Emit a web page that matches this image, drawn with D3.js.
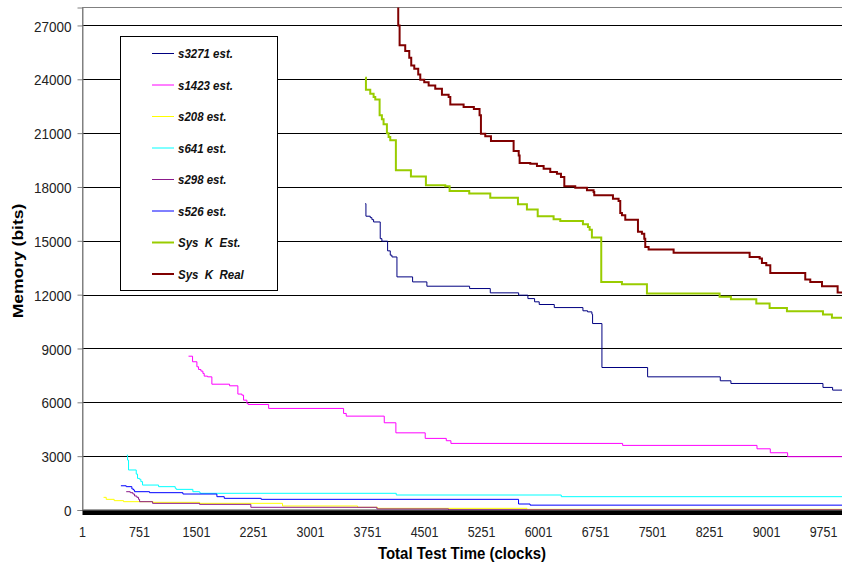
<!DOCTYPE html>
<html>
<head>
<meta charset="utf-8">
<script src="https://cdn.jsdelivr.net/npm/d3@7"></script>
<style>
  body { margin: 0; background: #fff; }
  svg { display: block; }
  text { font-family: "Liberation Sans", Arial, sans-serif; }
</style>
</head>
<body>
<svg id="chart"></svg>
<script>
// Step series, each point is [test time (clocks), memory (bits)]
const s3271 = [[3721, 17070], [3730, 16370], [3787, 16290], [3809, 16180], [3831, 16050], [3918, 15120],
  [3940, 14980], [4015, 14440], [4050, 14200], [4072, 14100], [4138, 12990], [4344, 12710], [4532, 12470],
  [5094, 12340], [5366, 12100], [5739, 11970], [5861, 11780], [5949, 11600], [6010, 11450], [6208, 11280],
  [6585, 11100], [6646, 11040], [6703, 10910], [6712, 10390], [6835, 7940], [7436, 7420], [8392, 7200],
  [8532, 7050], [9743, 6830], [9870, 6680], [10000, 6680]];

const s1423 = [[1396, 8570], [1449, 8260], [1506, 7980], [1528, 7830], [1559, 7740], [1585, 7610],
  [1602, 7460], [1646, 7420], [1703, 7010], [1936, 6920], [2045, 6460], [2098, 6400], [2120, 6120],
  [2164, 5940], [2180, 5880], [2450, 5660], [3436, 5380], [3471, 5230], [3971, 4860], [4124, 4300],
  [4510, 3990], [4787, 3860], [4848, 3710], [7107, 3600], [8875, 3410], [9050, 3190], [9278, 2970],
  [10000, 2970]];

const s208 = [[278, 705], [313, 594], [418, 520], [541, 464], [927, 427], [1541, 371], [2633, 223],
  [3620, 150], [3883, 93], [5848, 40], [10000, 40]];

const s641 = [[585, 3060], [594, 2780], [607, 2230], [708, 2000], [725, 1760], [752, 1710], [769, 1580],
  [791, 1390], [1002, 1300], [1221, 1210], [1234, 1150], [1453, 1020], [1541, 980], [1550, 930],
  [4129, 835], [6300, 742], [10000, 742]];

const s298 = [[576, 1020], [629, 965], [664, 890], [686, 780], [716, 705], [738, 594], [752, 464],
  [923, 371], [1541, 315], [2216, 150], [3874, 60], [4817, 10], [10000, 10]];

const s526 = [[506, 1350], [576, 1300], [651, 1170], [673, 1110], [686, 1020], [883, 965], [1322, 890],
  [1769, 742], [1866, 650], [2352, 594], [5738, 334], [5890, 270], [10000, 270]];

const sysKEst = [[3721, 24090], [3730, 23420], [3787, 23200], [3831, 23010], [3853, 22880], [3910, 21990],
  [3940, 21770], [3962, 21490], [4006, 21000], [4028, 20780], [4050, 20600], [4124, 18930], [4322, 18590],
  [4519, 18090], [4774, 18040], [4831, 17780], [5089, 17630], [5366, 17400], [5730, 17030], [5848, 16740],
  [5990, 16370], [6199, 16200], [6287, 16110], [6585, 15920], [6651, 15770], [6673, 15620], [6703, 15180],
  [6826, 12710], [7098, 12580], [7427, 12060], [8383, 11880], [8532, 11750], [8866, 11500], [9041, 11260],
  [9269, 11080], [9743, 10890], [9861, 10710], [10000, 10710]];

const sysKReal = [[4150, 29000], [4155, 27000], [4173, 25890], [4247, 25570], [4300, 25200], [4326, 24770],
  [4366, 24590], [4418, 24270], [4445, 23970], [4497, 23840], [4555, 23660], [4642, 23470], [4730, 23140],
  [4818, 23010], [4840, 22600], [5015, 22450], [5150, 22340], [5225, 21990], [5243, 20970], [5300, 20820],
  [5375, 20560], [5673, 20000], [5740, 19760], [5752, 19330], [5892, 19300], [5980, 19170], [6068, 19020],
  [6155, 18830], [6243, 18740], [6296, 18560], [6340, 18040], [6484, 17960], [6638, 17810], [6725, 17720],
  [6734, 17540], [6980, 17350], [7054, 17220], [7076, 16550], [7098, 16420], [7142, 16180], [7309, 15500],
  [7361, 15400], [7392, 15120], [7405, 14660], [7449, 14510], [7778, 14340], [8151, 14330], [8778, 14100],
  [8910, 14010], [8940, 13770], [8997, 13640], [9050, 13210], [9510, 12840], [9576, 12710], [9730, 12470],
  [9936, 12120], [10000, 12120]];

const seriesNames = ["s3271 est.", "s1423 est.", "s208 est.", "s641 est.", "s298 est.", "s526 est.",
  "Sys  K  Est.", "Sys  K  Real"];
const seriesData = [s3271, s1423, s208, s641, s298, s526, sysKEst, sysKReal];
const seriesColors = ["#000080", "#ff00ff", "#ffff00", "#00ffff", "#8b1a8b", "#0000ff", "#99cc00", "#800000"];
const seriesWidths = [1, 1, 1, 1, 1, 1, 2, 2];

const xTickLabels = [1, 751, 1501, 2251, 3001, 3751, 4501, 5251, 6001, 6751, 7501, 8251, 9001, 9751];
const yTickValues = [0, 3000, 6000, 9000, 12000, 15000, 18000, 21000, 24000, 27000];

const width = 842;
const height = 567;
const plot = { left: 82.5, right: 842.5, top: 7.5, bottom: 510 };

const svg = d3.select("#chart").attr("width", width).attr("height", height);

const x = d3.scaleLinear().domain([1, 10000]).range([plot.left, plot.right]);
const y = d3.scaleLinear().domain([0, 28000]).range([plot.bottom, plot.top]);

svg.append("defs").append("clipPath").attr("id", "plotClip")
  .append("rect")
  .attr("x", plot.left).attr("y", plot.top)
  .attr("width", plot.right - plot.left).attr("height", plot.bottom - plot.top);

// plot area border
svg.append("rect")
  .attr("x", plot.left).attr("y", plot.top)
  .attr("width", plot.right - plot.left + 5).attr("height", plot.bottom - plot.top)
  .attr("fill", "none").attr("stroke", "#808080");

// gridlines
svg.append("g")
  .selectAll("line")
  .data(yTickValues.filter((d) => d > 0))
  .enter()
  .append("line")
  .attr("x1", plot.left).attr("x2", width)
  .attr("y1", (d) => Math.round(y(d)) + 0.5).attr("y2", (d) => Math.round(y(d)) + 0.5)
  .attr("stroke", "#000").attr("stroke-width", 1);

// y axis (labels are a bit taller than wide in the source image)
const yAxis = svg.append("g")
  .attr("transform", `translate(${plot.left},0)`)
  .call(d3.axisLeft(y).tickValues(yTickValues).tickSize(5).tickFormat(d3.format("d")));
yAxis.select(".domain").attr("stroke", "#808080");
yAxis.selectAll(".tick line").attr("stroke", "#808080");
yAxis.selectAll(".tick text").remove();
yAxis.selectAll(".tick")
  .append("text")
  .attr("transform", "translate(-11,0) scale(1,1.15)")
  .attr("dy", "0.36em")
  .attr("text-anchor", "end")
  .attr("font-size", "13.5px")
  .attr("fill", "#222")
  .text((d) => d);

// x axis: one tick per clock, which Excel draws as a solid band
svg.append("rect")
  .attr("x", plot.left).attr("y", plot.bottom)
  .attr("width", width - plot.left).attr("height", 5)
  .attr("fill", "#000");
svg.append("line")
  .attr("x1", plot.left).attr("x2", width)
  .attr("y1", plot.bottom).attr("y2", plot.bottom)
  .attr("stroke", "#808080");

svg.append("g")
  .selectAll("text")
  .data(xTickLabels)
  .enter()
  .append("text")
  .attr("transform", (d) => `translate(${x(d)},536.5) scale(1,1.15)`)
  .attr("text-anchor", "middle")
  .attr("font-size", "12.5px")
  .attr("fill", "#222")
  .text((d) => d);

// series lines
const line = d3.line()
  .x((d) => x(d[0]))
  .y((d) => y(d[1]))
  .curve(d3.curveStepAfter);

svg.append("g")
  .attr("clip-path", "url(#plotClip)")
  .selectAll("path")
  .data(seriesData)
  .enter()
  .append("path")
  .attr("d", line)
  .attr("fill", "none")
  .attr("stroke", (d, i) => seriesColors[i])
  .attr("stroke-width", (d, i) => seriesWidths[i]);

// axis titles
svg.append("text")
  .attr("transform", "translate(462,558.5) scale(1,1.1)")
  .attr("text-anchor", "middle")
  .attr("font-size", "15px").attr("font-weight", "bold")
  .text("Total Test Time (clocks)");

svg.append("text")
  .attr("transform", "translate(23,261) rotate(-90) scale(1.25,1)")
  .attr("text-anchor", "middle")
  .attr("font-size", "14px").attr("font-weight", "bold")
  .text("Memory (bits)");

// legend
const legend = svg.append("g");
legend.append("rect")
  .attr("x", 120.5).attr("y", 36.5)
  .attr("width", 157).attr("height", 254)
  .attr("fill", "#fff").attr("stroke", "#000");

const items = legend.selectAll("g.item")
  .data(seriesNames)
  .enter()
  .append("g")
  .attr("class", "item")
  .attr("transform", (d, i) => `translate(0,${53.5 + i * 31.5})`);

items.append("line")
  .attr("x1", 152).attr("x2", 174)
  .attr("y1", 0).attr("y2", 0)
  .attr("stroke", (d, i) => seriesColors[i])
  .attr("stroke-width", (d, i) => seriesWidths[i]);

items.append("text")
  .attr("transform", "translate(178,4.5) scale(1,1.12)")
  .attr("font-size", "11.5px")
  .attr("font-weight", "bold")
  .attr("font-style", "italic")
  .attr("fill", "#111")
  .style("white-space", "pre")
  .text((d) => d);
</script>
</body>
</html>
